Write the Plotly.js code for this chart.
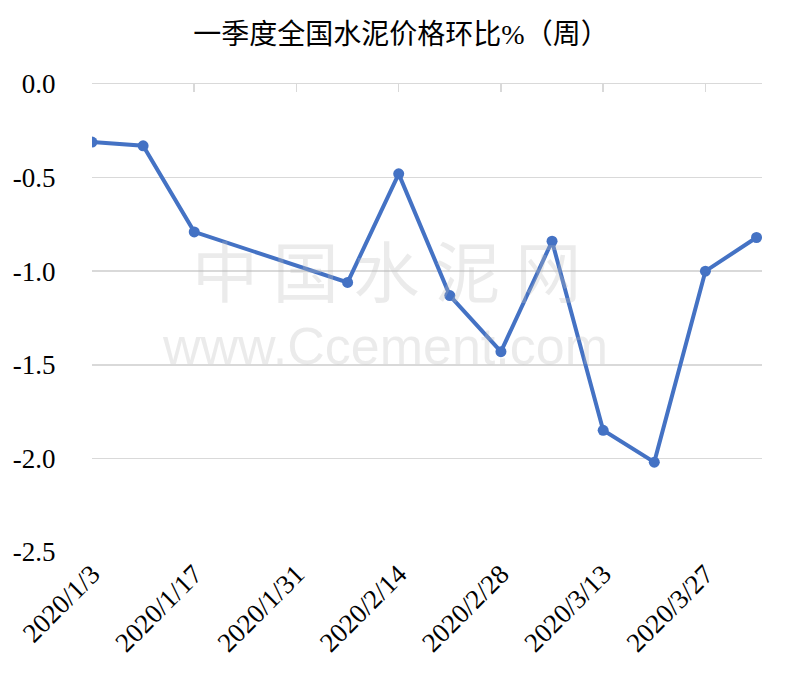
<!DOCTYPE html>
<html>
<head>
<meta charset="utf-8">
<script src="https://cdn.plot.ly/plotly-3.0.1.min.js"></script>
<style>
html,body{margin:0;padding:0;background:#fff;}
#chart{width:802px;height:690px;}
#chart .xtick text, #chart .ytick text { font-family: 'Liberation Serif', serif !important; }
#chart .gtitle { font-family: 'Liberation Serif', 'Noto Sans CJK SC', serif !important; }
</style>
</head>
<body>
<div id="chart"></div>
<script>
const dates = ["2020-01-03","2020-01-10","2020-01-17","2020-02-07","2020-02-14","2020-02-21","2020-02-28","2020-03-06","2020-03-13","2020-03-20","2020-03-27","2020-04-03"];
const values = [-0.31,-0.33,-0.79,-1.06,-0.48,-1.13,-1.43,-0.84,-1.85,-2.02,-1.00,-0.82];
const tickDates = ["2020-01-03","2020-01-17","2020-01-31","2020-02-14","2020-02-28","2020-03-13","2020-03-27"];
const tickLabels = ["2020/1/3","2020/1/17","2020/1/31","2020/2/14","2020/2/28","2020/3/13","2020/3/27"];
const yTicks = [0,-0.5,-1,-1.5,-2,-2.5];
const yLabels = ["0.0","-0.5","-1.0","-1.5","-2.0","-2.5"];
const titleText = "一季度全国水泥价格环比%（周）";
const watermark1 = "中 国 水 泥 网";
const watermark2 = "www.Ccement.com";

const serifFam = "Liberation Serif";
const trace = {
  x: dates, y: values, type: "scatter", mode: "lines+markers",
  line: {color: "#4472C4", width: 4},
  marker: {color: "#4472C4", size: 11},
  hoverinfo: "x+y"
};
const layout = {
  width: 802, height: 690,
  margin: {l: 92, r: 40, t: 84, b: 138},
  paper_bgcolor: "#fff", plot_bgcolor: "#fff",
  showlegend: false,
  font: {family: serifFam, size: 27, color: "#000"},
  title: {text: titleText, x: 0.5, xanchor: "center", y: 0.95, yanchor: "middle",
          font: {family: "Liberation Serif, Noto Sans CJK SC", size: 28, color: "#000"}},
  xaxis: {
    type: "date", range: ["2020-01-03", "2020-04-03 18:00"],
    tickvals: tickDates, ticktext: tickLabels, tickangle: -45,
    showgrid: false, zeroline: false, showline: false, ticks: "",
    tickfont: {family: serifFam, size: 27, color: "#000"}
  },
  xaxis2: {
    type: "date", overlaying: "x", matches: "x", side: "top", anchor: "y",
    tickvals: tickDates, showticklabels: false, ticks: "inside", ticklen: 8,
    tickcolor: "#d9d9d9", tickwidth: 1.5, showline: true, linecolor: "#d9d9d9", linewidth: 1.5,
    showgrid: false, zeroline: false
  },
  yaxis: {
    range: [-2.5, 0], tickvals: yTicks, ticktext: yLabels,
    showgrid: true, gridcolor: "#d9d9d9", gridwidth: 1.5, zeroline: false, showline: false,
    ticks: "outside", ticklen: 30, tickcolor: "rgba(0,0,0,0)",
    tickfont: {family: serifFam, size: 27, color: "#000"}
  },
  annotations: [
    {text: watermark1, xref: "paper", yref: "paper", x: 0.439, y: 0.607, showarrow: false,
     font: {family: "Noto Sans CJK SC", size: 66, color: "rgba(190,190,190,0.3)"}},
    {text: watermark2, xref: "paper", yref: "paper", x: 0.437, y: 0.44, showarrow: false,
     font: {family: "Liberation Sans", size: 52, color: "rgba(190,190,190,0.3)"}}
  ]
};
const trace2 = {x: [dates[0]], y: [0], xaxis: "x2", yaxis: "y", mode: "markers", marker: {opacity: 0}, hoverinfo: "skip"};
Plotly.newPlot("chart", [trace, trace2], layout, {displayModeBar: false, staticPlot: true});
</script>
</body>
</html>
